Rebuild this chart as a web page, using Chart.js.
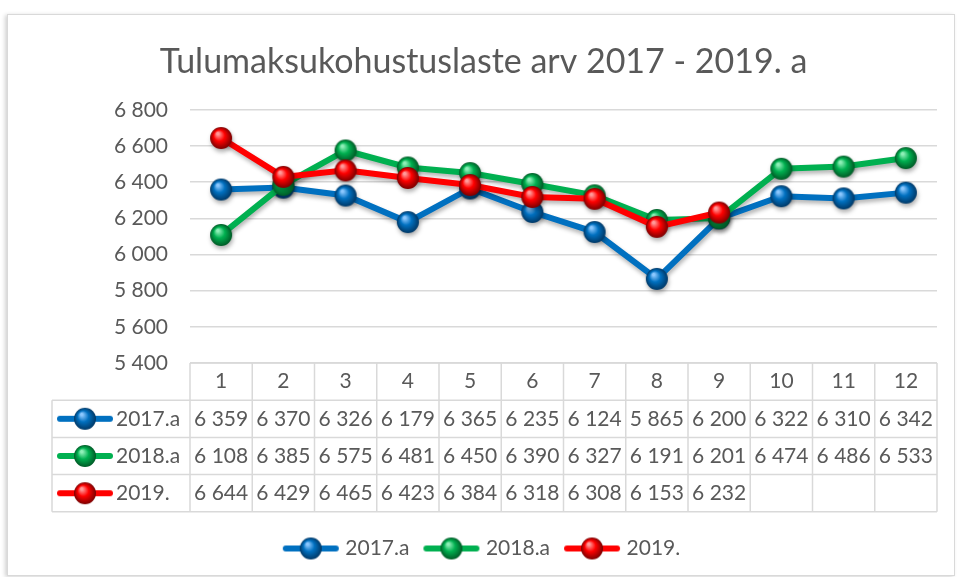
<!DOCTYPE html>
<html>
<head>
<meta charset="utf-8">
<script src="https://cdn.jsdelivr.net/npm/chart.js@4/dist/chart.umd.min.js"></script>
<style>
	body { margin: 0; background: #fff; }
	#frame { position: absolute; left: 7px; top: 14px; width: 946px; height: 560px; border: 1px solid #d9d9d9; box-shadow: -2px 1px 4px rgba(0,0,0,0.18); background: #fff; }
	#chart { position: absolute; left: 0; top: 0; }
</style>
</head>
<body>
<div id="frame"></div>
<canvas id="chart" width="960" height="577"></canvas>
<script>
const months = ["1", "2", "3", "4", "5", "6", "7", "8", "9", "10", "11", "12"];
const seriesNames = ["2017.a", "2018.a", "2019."];
const values2017 = [6359, 6370, 6326, 6179, 6365, 6235, 6124, 5865, 6200, 6322, 6310, 6342];
const values2018 = [6108, 6385, 6575, 6481, 6450, 6390, 6327, 6191, 6201, 6474, 6486, 6533];
const values2019 = [6644, 6429, 6465, 6423, 6384, 6318, 6308, 6153, 6232];
const yTicks = [5400, 5600, 5800, 6000, 6200, 6400, 6600, 6800];

const FONT = "Lato";
const TEXT = "#595959";
const GRID = "#d9d9d9";
// base, light, dark
const colours = [
	["#0070c0", "#8cc8ff", "#003866"],
	["#00b050", "#8ff0b8", "#005a26"],
	["#ff0000", "#ff9a9a", "#7a0000"],
];

function fmt(v){
	return String(v).replace(/\B(?=(\d{3})+(?!\d))/g, " ");
}

function sphere(ctx, cx, cy, r, c){
	const g = ctx.createRadialGradient(cx - r * 0.3, cy - r * 0.4, r * 0.1, cx, cy, r);
	g.addColorStop(0, c[1]);
	g.addColorStop(0.45, c[0]);
	g.addColorStop(1, c[2]);
	ctx.fillStyle = g;
	ctx.beginPath();
	ctx.arc(cx, cy, r, 0, Math.PI * 2);
	ctx.fill();
}

function makeBall(c){
	const cv = document.createElement("canvas");
	cv.width = 26; cv.height = 26;
	sphere(cv.getContext("2d"), 13, 13, 11, c);
	return cv;
}

function makeKey(c){
	const cv = document.createElement("canvas");
	cv.width = 58; cv.height = 26;
	const ctx = cv.getContext("2d");
	ctx.strokeStyle = c[0];
	ctx.lineWidth = 6;
	ctx.lineCap = "round";
	ctx.beginPath();
	ctx.moveTo(4, 13); ctx.lineTo(54, 13);
	ctx.stroke();
	sphere(ctx, 29, 13, 11, c);
	return cv;
}

const balls = colours.map(makeBall);
const keys = colours.map(makeKey);
const allValues = [values2017, values2018, values2019];

const lineShadow = {
	id: "lineShadow",
	beforeDatasetsDraw(chart){
		const ctx = chart.ctx;
		ctx.save();
		ctx.shadowColor = "rgba(0,0,0,0.3)";
		ctx.shadowBlur = 4;
		ctx.shadowOffsetX = 1;
		ctx.shadowOffsetY = 3;
	},
	afterDatasetsDraw(chart){
		chart.ctx.restore();
	}
};

// data table under the plot, columns follow the x scale
const dataTable = {
	id: "dataTable",
	afterDraw(chart){
		const ctx = chart.ctx;
		const area = chart.chartArea;
		const x = chart.scales.x;
		const colW = (area.right - area.left) / months.length;
		const rowH = 37.2;
		const top = area.bottom;
		const leftEdge = 52;
		ctx.save();
		ctx.strokeStyle = GRID;
		ctx.lineWidth = 1.5;
		ctx.beginPath();
		// horizontal lines
		ctx.moveTo(area.left, top); ctx.lineTo(area.right, top);
		for (let r = 1; r <= 4; r++){
			ctx.moveTo(leftEdge, top + r * rowH); ctx.lineTo(area.right, top + r * rowH);
		}
		// vertical lines
		ctx.moveTo(leftEdge, top + rowH); ctx.lineTo(leftEdge, top + 4 * rowH);
		for (let i = 0; i <= months.length; i++){
			const px = area.left + i * colW;
			ctx.moveTo(px, top); ctx.lineTo(px, top + 4 * rowH);
		}
		ctx.stroke();

		ctx.fillStyle = TEXT;
		ctx.font = "21px " + FONT;
		ctx.textAlign = "center";
		ctx.textBaseline = "middle";
		months.forEach((m, i) => {
			ctx.fillText(m, x.getPixelForValue(i), top + rowH / 2);
		});
		allValues.forEach((vals, s) => {
			const cy = top + (s + 1.5) * rowH;
			ctx.textAlign = "center";
			vals.forEach((v, i) => ctx.fillText(fmt(v), x.getPixelForValue(i), cy));
			ctx.drawImage(keys[s], 56, cy - 13);
			ctx.textAlign = "left";
			ctx.fillText(seriesNames[s], 116, cy);
		});
		ctx.restore();
	}
};

function dataset(i, data){
	return {
		label: seriesNames[i],
		data: data,
		borderColor: colours[i][0],
		borderWidth: 6,
		pointStyle: balls[i],
		pointRadius: 11,
		pointHoverRadius: 11,
		tension: 0,
		order: 3 - i,
	};
}

new Chart(document.getElementById("chart"), {
	type: "line",
	data: {
		labels: months,
		datasets: [dataset(0, values2017), dataset(1, values2018), dataset(2, values2019)],
	},
	options: {
		responsive: false,
		animation: false,
		layout: { padding: { left: 30, right: 23, top: 0, bottom: 8 } },
		plugins: {
			title: {
				display: true,
				text: "Tulumaksukohustuslaste arv 2017 - 2019. a",
				color: TEXT,
				font: { family: FONT, size: 34, weight: "normal" },
				padding: { top: 42, bottom: 27 },
			},
			legend: {
				position: "bottom",
				labels: {
					usePointStyle: true,
					pointStyleWidth: 48,
					color: TEXT,
					font: { family: FONT, size: 21 },
					padding: 18,
					generateLabels: chart => chart.data.datasets.map((ds, i) => ({
						text: ds.label,
						pointStyle: keys[i],
						fontColor: TEXT,
						datasetIndex: i,
						lineWidth: 0,
						strokeStyle: "transparent",
						fillStyle: "transparent",
					})),
				},
			},
			tooltip: { enabled: false },
		},
		scales: {
			x: {
				offset: true,
				grid: { display: false },
				border: { display: false },
				ticks: { display: false },
				afterFit: s => { s.height = 157; },
			},
			y: {
				min: 5400,
				max: 6800,
				afterBuildTicks: s => { s.ticks = yTicks.map(v => ({ value: v })); },
				afterFit: s => { s.width = 160; },
				grid: { color: GRID, lineWidth: 1.5, drawTicks: false },
				border: { display: false },
				ticks: {
					color: TEXT,
					padding: 22,
					font: { family: FONT, size: 21 },
					callback: v => fmt(v),
				},
			},
		},
	},
	plugins: [lineShadow, dataTable],
});
</script>
</body>
</html>
